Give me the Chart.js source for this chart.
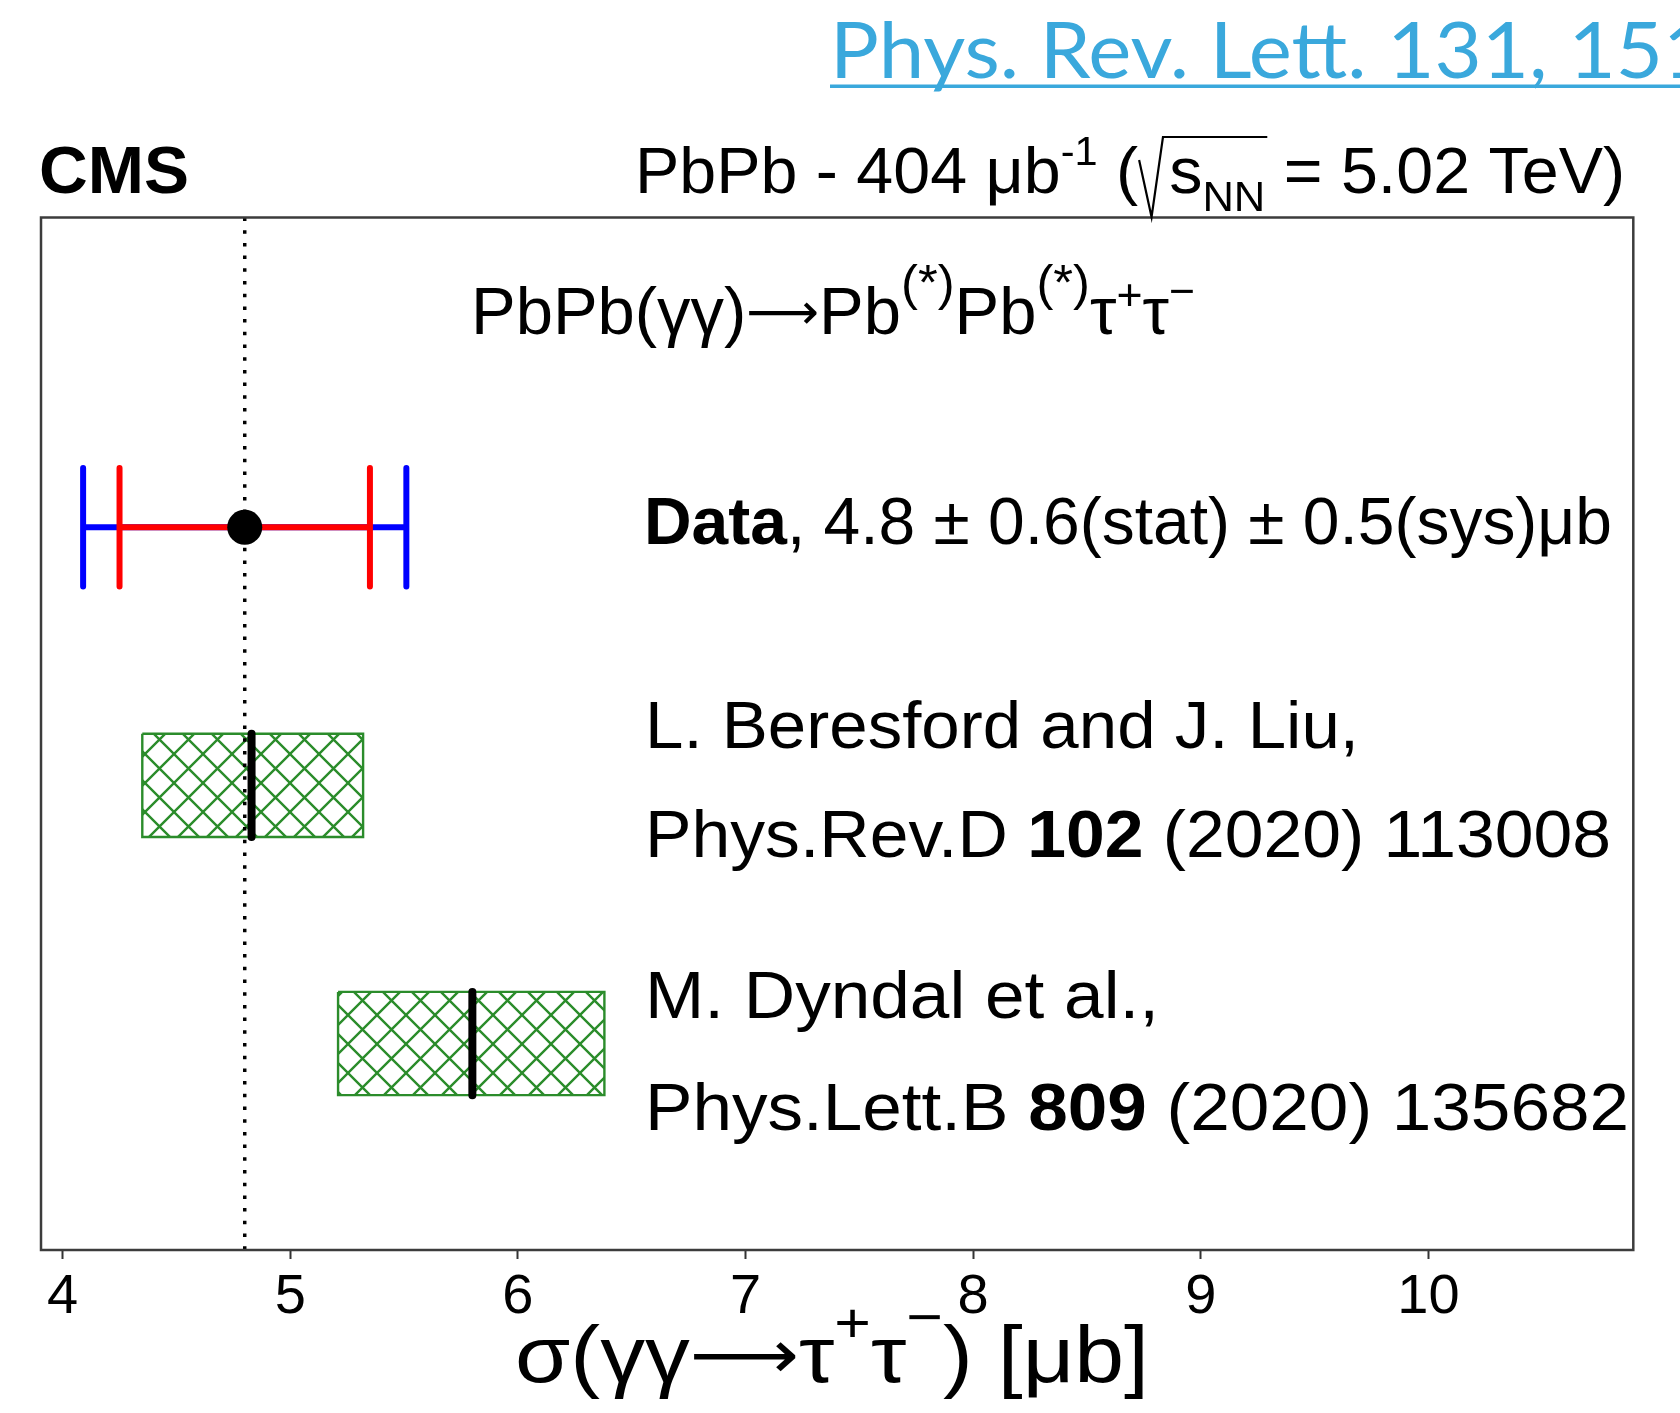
<!DOCTYPE html>
<html><head><meta charset="utf-8">
<script src="https://cdn.jsdelivr.net/npm/chart.js@4.4.0/dist/chart.umd.min.js"></script>
<style>html,body{margin:0;padding:0;background:#fff;overflow:hidden}canvas{display:block}</style>
</head><body>
<canvas id="c" width="1680" height="1413"></canvas>
<script>
// ---------------- data ----------------
const rowNames = ['Data', 'L. Beresford and J. Liu', 'M. Dyndal et al.'];
const dataValue = [4.8];
const statLow = [4.25];
const statHigh = [5.35];
const totalLow = [4.09];
const totalHigh = [5.51];
const theoryCentral = [4.83, 5.80];
const theoryLow = [4.35, 5.21];
const theoryHigh = [5.32, 6.38];
const xTicks = [4, 5, 6, 7, 8, 9, 10];
const xRange = [3.905, 10.9];
const rowRange = [-1.2, 2.8];

// ---------------- styles ----------------
const GREEN = '#2b8c2b';
const BOX_H = 0.2, CAP_H = 0.23;
const FONT = 'Liberation Sans';

function hatchPattern() {
  const p = 29, c = document.createElement('canvas');
  c.width = p; c.height = p;
  const g = c.getContext('2d');
  g.strokeStyle = GREEN; g.lineWidth = 2.4;
  g.beginPath();
  for (const k of [-1, 0, 1]) { g.moveTo(-1, -1 + k * p); g.lineTo(p + 1, p + 1 + k * p); }
  for (const k of [0, 1, 2]) { g.moveTo(-1, k * p + 1); g.lineTo(p + 1, k * p - p - 1); }
  g.stroke();
  return g.createPattern(c, 'repeat');
}
function segs(list) {
  const out = [];
  list.forEach((s, i) => { if (i) out.push({x: null, y: null}); out.push(s[0], s[1]); });
  return out;
}
function errH(lo, hi, r) {
  return segs([
    [{x: lo, y: r - CAP_H}, {x: lo, y: r + CAP_H}],
    [{x: lo, y: r}, {x: hi, y: r}],
    [{x: hi, y: r - CAP_H}, {x: hi, y: r + CAP_H}]
  ]);
}
const line = {showLine: true, pointRadius: 0, pointHoverRadius: 0, fill: false};
const datasets = [];
// data points
datasets.push({data: dataValue.map((v, i) => ({x: v, y: i})), pointRadius: 17.5, pointHoverRadius: 17.5,
  backgroundColor: '#000', borderWidth: 0, order: 0});
// theory central values
theoryCentral.forEach((c, i) => {
  const r = i + dataValue.length;
  datasets.push(Object.assign({}, line, {data: [{x: c, y: r - BOX_H}, {x: c, y: r + BOX_H}],
    borderColor: '#000', borderWidth: 8, borderCapStyle: 'round', order: 1}));
});
// stat (red) and total (blue) error bars
dataValue.forEach((v, i) => {
  datasets.push(Object.assign({}, line, {data: errH(statLow[i], statHigh[i], i),
    borderColor: '#ff0000', borderWidth: 6, borderCapStyle: 'round', order: 2}));
  datasets.push(Object.assign({}, line, {data: errH(totalLow[i], totalHigh[i], i),
    borderColor: '#0000ff', borderWidth: 6, borderCapStyle: 'round', order: 3}));
});
// dotted reference line at measured value
datasets.push(Object.assign({}, line, {data: [{x: dataValue[0], y: rowRange[0]}, {x: dataValue[0], y: rowRange[1]}],
  borderColor: '#000', borderWidth: 3.5, borderDash: [3.5, 9.2], order: 4}));
// theory hatched boxes
const pat = hatchPattern();
theoryCentral.forEach((c, i) => {
  const r = i + dataValue.length, lo = theoryLow[i], hi = theoryHigh[i];
  datasets.push(Object.assign({}, line, {
    data: [{x: lo, y: r - BOX_H}, {x: hi, y: r - BOX_H}, {x: hi, y: r + BOX_H}, {x: lo, y: r + BOX_H}, {x: lo, y: r - BOX_H}],
    borderColor: GREEN, borderWidth: 2.4, backgroundColor: pat, fill: 'shape', tension: 0, order: 5}));
});

function rich(ctx, parts, x, y, opt) {
  opt = opt || {};
  ctx.save();
  let w = 0;
  const m = parts.map(p => {
    const f = (p.bold ? 'bold ' : '') + (p.size || opt.size) + 'px "' + (p.family || opt.family || FONT) + '"';
    ctx.font = f;
    const pw = p.gap != null ? p.gap : ctx.measureText(p.t).width;
    const r = {p, f, x0: w, w: pw};
    w += pw;
    return r;
  });
  const s = opt.width ? opt.width / w : 1;
  const left = opt.align === 'right' ? x - w * s : (opt.align === 'center' ? x - w * s / 2 : x);
  ctx.fillStyle = opt.color || '#000';
  ctx.textBaseline = 'alphabetic'; ctx.textAlign = 'left';
  m.forEach(r => {
    if (!r.p.t) return;
    ctx.save();
    ctx.translate(left + r.x0 * s, y + (r.p.dy || 0));
    ctx.scale(s, 1);
    ctx.font = r.f;
    ctx.fillText(r.p.t, 0, 0);
    ctx.restore();
  });
  ctx.restore();
  return m.map(r => ({x0: left + r.x0 * s, x1: left + (r.x0 + r.w) * s, s}));
}

const textPlugin = {
  id: 'texts',
  afterDraw(chart) {
    const ctx = chart.ctx, a = chart.chartArea;
    // frame
    ctx.save();
    ctx.strokeStyle = '#3c3c3c'; ctx.lineWidth = 2.5;
    ctx.strokeRect(a.left, a.top, a.right - a.left, a.bottom - a.top);
    ctx.restore();

    // journal link
    ctx.save();
    ctx.font = '77px Lato';
    const sub = ctx.measureText('Phys. Rev. Lett. 131, 15').width;
    const sc = 833 / sub;
    ctx.translate(830, 78); ctx.scale(sc, 1);
    ctx.fillStyle = '#3aa8dc';
    ctx.fillText('Phys. Rev. Lett. 131, 151902 (2023)', 0, 0);
    ctx.restore();
    ctx.fillStyle = '#3aa8dc';
    ctx.fillRect(830, 84.5, 1680 - 830, 3.5);

    // CMS
    rich(ctx, [{t: 'CMS', bold: true}], 39, 193, {size: 67, width: 150});
    // lumi header
    const hp = rich(ctx, [
      {t: 'PbPb - 404 '}, {t: 'μb'}, {t: '-1', size: 40, dy: -28}, {t: ' ('}, {gap: 30},
      {t: 's'}, {t: 'NN', size: 42, dy: 18}, {t: ' = 5.02 TeV)'}
    ], 1625, 193, {size: 64, align: 'right', width: 990});
    const sx = hp[4].x0, s = hp[4].s, ex = hp[6].x1;
    ctx.save();
    ctx.strokeStyle = '#000'; ctx.lineWidth = 2.2; ctx.lineJoin = 'miter';
    ctx.beginPath();
    ctx.moveTo(sx + 1 * s, 193 - 33);
    ctx.lineTo(sx + 13 * s, 193 + 24);
    ctx.lineTo(sx + 24 * s, 193 - 56);
    ctx.lineTo(ex + 2, 193 - 56);
    ctx.stroke();
    ctx.restore();

    // process title
    rich(ctx, [
      {t: 'PbPb(γγ)'}, {t: '⟶', family: 'DejaVu Sans', size: 50, dy: -5}, {t: 'Pb'}, {t: '(*)', size: 50, dy: -34},
      {t: 'Pb'}, {t: '(*)', size: 50, dy: -34}, {t: 'τ'}, {t: '+', size: 44, dy: -24}, {t: 'τ'}, {t: '−', size: 44, dy: -28}
    ], 471, 334, {size: 66, width: 724});

    // legend-like labels
    rich(ctx, [{t: rowNames[0], bold: true}, {t: ', 4.8 ± 0.6(stat) ± 0.5(sys)μb'}], 644, 544, {size: 66, width: 968});
    rich(ctx, [{t: rowNames[1] + ','}], 645, 748, {size: 66, width: 714});
    rich(ctx, [{t: 'Phys.Rev.D '}, {t: '102', bold: true}, {t: ' (2020) 113008'}], 645, 857, {size: 66, width: 966});
    rich(ctx, [{t: rowNames[2] + ','}], 645, 1018, {size: 66, width: 514});
    rich(ctx, [{t: 'Phys.Lett.B '}, {t: '809', bold: true}, {t: ' (2020) 135682'}], 645, 1130, {size: 66, width: 984});

    // x-axis title
    rich(ctx, [
      {t: 'σ(γγ'}, {t: '⟶', family: 'DejaVu Sans', size: 68, dy: -4}, {t: 'τ'}, {t: '+', size: 56, dy: -40},
      {t: 'τ'}, {t: '−', size: 56, dy: -46}, {t: ') [μb]'}
    ], 515, 1382, {size: 80, width: 634});
  }
};

new Chart(document.getElementById('c'), {
  type: 'scatter',
  data: {datasets},
  options: {
    responsive: false,
    animation: false,
    events: [],
    layout: {padding: {left: 41, right: 46.7, top: 217.5, bottom: 0}},
    plugins: {legend: {display: false}, tooltip: {enabled: false}},
    scales: {
      x: {
        type: 'linear', position: 'bottom', min: xRange[0], max: xRange[1],
        afterBuildTicks: sc => { sc.ticks = xTicks.map(v => ({value: v})); },
        afterFit: sc => { sc.height = 163; },
        border: {display: false},
        grid: {display: true, drawOnChartArea: false, drawTicks: true, tickLength: 9, tickWidth: 2, tickColor: '#333'},
        ticks: {font: {family: FONT, size: 56}, color: '#000', padding: 5, maxRotation: 0, autoSkip: false,
          callback: v => String(v)}
      },
      y: {type: 'linear', min: rowRange[0], max: rowRange[1], reverse: true, display: false}
    }
  },
  plugins: [textPlugin]
});
</script>
</body></html>
